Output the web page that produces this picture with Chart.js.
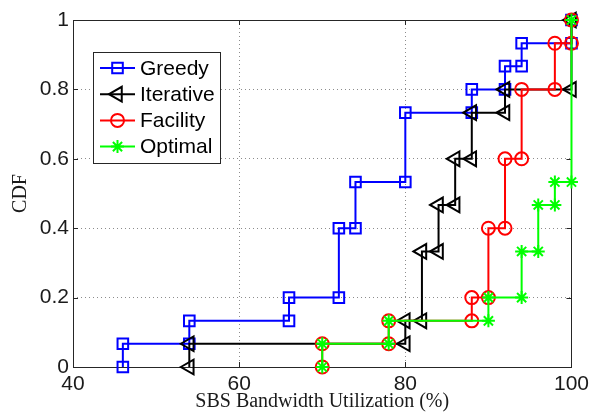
<!DOCTYPE html>
<html>
<head>
<meta charset="utf-8">
<script src="https://cdn.jsdelivr.net/npm/chart.js@4/dist/chart.umd.min.js"></script>
<style>
  html, body { margin: 0; padding: 0; background: #fff; }
  #wrap { width: 594px; height: 415px; }
</style>
</head>
<body>
<div id="wrap"><canvas id="cdfCanvas"></canvas></div>
<script>
// CDF des taux d'utilisation (sommets des escaliers)
const seriesNames = ["Greedy", "Iterative", "Facility", "Optimal"];

const greedyX = [46, 46, 54, 54, 66, 66, 72, 72, 74, 74, 80, 80, 88, 88, 92, 92, 94, 94, 100, 100];
const greedyY = [0, 0.067, 0.067, 0.133, 0.133, 0.2, 0.2, 0.4, 0.4, 0.533, 0.533, 0.733, 0.733, 0.8, 0.8, 0.867, 0.867, 0.933, 0.933, 1];

const iterativeX = [54, 54, 80, 80, 82, 82, 84, 84, 86, 86, 88, 88, 92, 92, 100, 100];
const iterativeY = [0, 0.067, 0.067, 0.133, 0.133, 0.333, 0.333, 0.467, 0.467, 0.6, 0.6, 0.733, 0.733, 0.8, 0.8, 1];

const facilityX = [70, 70, 78, 78, 88, 88, 90, 90, 92, 92, 94, 94, 98, 98, 100, 100];
const facilityY = [0, 0.067, 0.067, 0.133, 0.133, 0.2, 0.2, 0.4, 0.4, 0.6, 0.6, 0.8, 0.8, 0.933, 0.933, 1];

const optimalX = [70, 70, 78, 78, 90, 90, 94, 94, 96, 96, 98, 98, 100, 100];
const optimalY = [0, 0.067, 0.067, 0.133, 0.133, 0.2, 0.2, 0.333, 0.333, 0.467, 0.467, 0.533, 0.533, 1];

const xTicks = [40, 60, 80, 100];
const yTicks = [0, 0.2, 0.4, 0.6, 0.8, 1];

const toPoints = (xs, ys) => xs.map((x, i) => ({ x: x, y: ys[i] }));

const styles = [
  { color: "#0000ff", pointStyle: "rect", radius: 7.5, rotation: 0 },
  { color: "#000000", pointStyle: "triangle", radius: 8.5, rotation: -90 },
  { color: "#ff0000", pointStyle: "circle", radius: 6.5, rotation: 0 },
  { color: "#00ff00", pointStyle: "star", radius: 6.5, rotation: 0 }
];

const allData = [
  toPoints(greedyX, greedyY),
  toPoints(iterativeX, iterativeY),
  toPoints(facilityX, facilityY),
  toPoints(optimalX, optimalY)
];

const datasets = seriesNames.map((name, i) => ({
  label: name,
  data: allData[i],
  showLine: true,
  tension: 0,
  fill: false,
  borderColor: styles[i].color,
  borderWidth: 2,
  pointStyle: styles[i].pointStyle,
  pointRadius: styles[i].radius,
  pointHoverRadius: styles[i].radius,
  pointRotation: styles[i].rotation,
  pointBorderColor: styles[i].color,
  pointBackgroundColor: "rgba(0,0,0,0)",
  pointBorderWidth: 2,
  clip: false,
  order: 4 - i
}));

// boite des axes + petites graduations vers l'interieur
const axesBox = {
  id: "axesBox",
  beforeDatasetsDraw(chart) {
    const { ctx, chartArea: a, scales } = chart;
    ctx.save();
    ctx.strokeStyle = "#262626";
    ctx.lineWidth = 1;
    ctx.strokeRect(Math.round(a.left) + 0.5, Math.round(a.top) + 0.5,
      Math.round(a.right - a.left), Math.round(a.bottom - a.top));
    ctx.beginPath();
    xTicks.forEach(v => {
      const px = Math.round(scales.x.getPixelForValue(v)) + 0.5;
      ctx.moveTo(px, a.bottom); ctx.lineTo(px, a.bottom - 5);
      ctx.moveTo(px, a.top); ctx.lineTo(px, a.top + 5);
    });
    yTicks.forEach(v => {
      const py = Math.round(scales.y.getPixelForValue(v)) + 0.5;
      ctx.moveTo(a.left, py); ctx.lineTo(a.left + 5, py);
      ctx.moveTo(a.right, py); ctx.lineTo(a.right - 5, py);
    });
    ctx.stroke();
    ctx.restore();
  }
};

// legende dans le coin haut gauche, facon MATLAB
const boxLegend = {
  id: "boxLegend",
  afterDraw(chart) {
    const { ctx } = chart;
    const left = 93, top = 52, w = 127, h = 111;
    ctx.save();
    ctx.fillStyle = "#fff";
    ctx.fillRect(left, top, w, h);
    ctx.strokeStyle = "#262626";
    ctx.lineWidth = 1;
    ctx.strokeRect(left + 0.5, top + 0.5, w, h);
    seriesNames.forEach((name, i) => {
      const y = 68 + i * 26.2;
      const s = styles[i];
      ctx.strokeStyle = s.color;
      ctx.lineWidth = 2;
      ctx.beginPath();
      ctx.moveTo(100, y); ctx.lineTo(135, y);
      ctx.stroke();
      ctx.fillStyle = "rgba(0,0,0,0)";
      Chart.helpers.drawPoint(ctx, {
        pointStyle: s.pointStyle, radius: s.radius, rotation: s.rotation, borderWidth: 2
      }, 117.5, y);
      ctx.fillStyle = "#000";
      ctx.font = "21px 'Liberation Sans', Arial, sans-serif";
      ctx.textBaseline = "middle";
      ctx.textAlign = "left";
      ctx.fillText(name, 140, y + 1);
    });
    ctx.restore();
  }
};

const gridColor = (min, max) => (c) =>
  (c.tick && (c.tick.value === min || c.tick.value === max)) ? "rgba(0,0,0,0)" : "#8c8c8c";

new Chart(document.getElementById("cdfCanvas"), {
  type: "scatter",
  data: { datasets: datasets },
  options: {
    responsive: true,
    maintainAspectRatio: false,
    animation: false,
    layout: { padding: { left: 0, right: 20, top: 20, bottom: 0 } },
    plugins: { legend: { display: false }, tooltip: { enabled: false } },
    scales: {
      x: {
        type: "linear",
        min: 40,
        max: 100,
        afterBuildTicks: (scale) => { scale.ticks = xTicks.map(v => ({ value: v })); },
        afterFit: (scale) => { scale.height = 48; },
        ticks: {
          padding: 5,
          color: "#1a1a1a",
          font: { family: "'Liberation Sans', Arial, sans-serif", size: 21 },
          callback: (v) => String(v)
        },
        grid: { color: gridColor(40, 100), lineWidth: 1, drawTicks: false },
        border: { display: false, dash: [1, 3] },
        title: {
          display: true,
          text: "SBS Bandwidth Utilization (%)",
          color: "#1a1a1a",
          padding: { top: 0, bottom: 1 },
          font: { family: "'Liberation Serif', 'Times New Roman', serif", size: 20 }
        }
      },
      y: {
        type: "linear",
        min: 0,
        max: 1,
        afterBuildTicks: (scale) => { scale.ticks = yTicks.map(v => ({ value: v })); },
        afterFit: (scale) => { scale.width = 73; },
        ticks: {
          padding: 4,
          color: "#1a1a1a",
          font: { family: "'Liberation Sans', Arial, sans-serif", size: 21 },
          callback: (v) => String(v)
        },
        grid: { color: gridColor(0, 1), lineWidth: 1, drawTicks: false },
        border: { display: false, dash: [1, 3] },
        title: {
          display: true,
          text: "CDF",
          color: "#1a1a1a",
          padding: { top: 9, bottom: 0 },
          font: { family: "'Liberation Serif', 'Times New Roman', serif", size: 20 }
        }
      }
    }
  },
  plugins: [axesBox, boxLegend]
});
</script>
</body>
</html>
